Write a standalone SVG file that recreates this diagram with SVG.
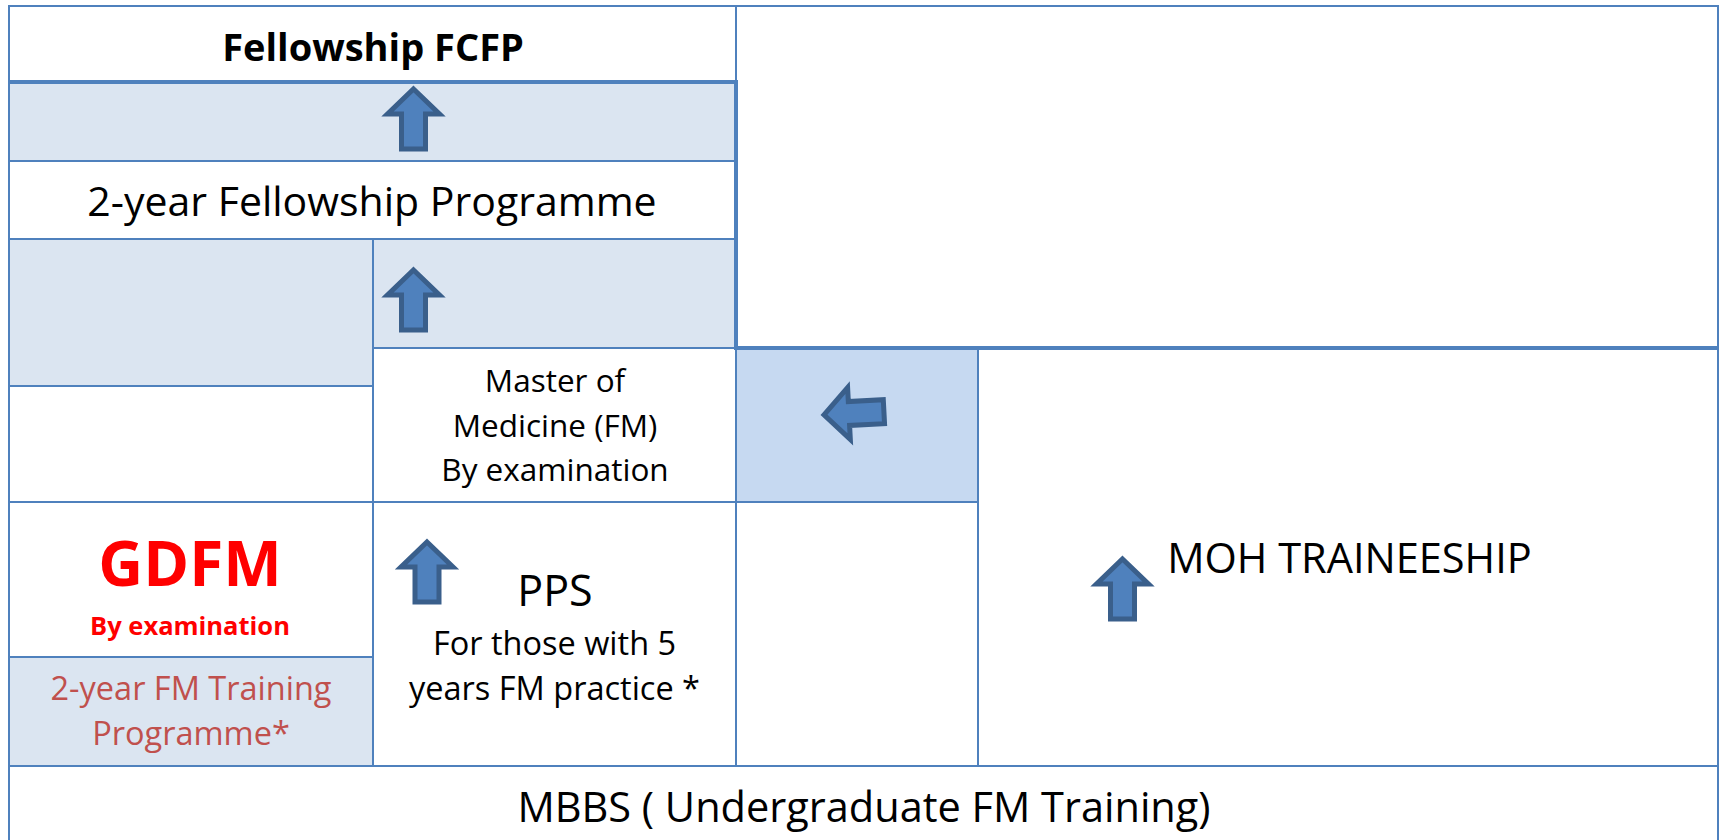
<svg xmlns="http://www.w3.org/2000/svg" xmlns:xlink="http://www.w3.org/1999/xlink" width="1721" height="840" viewBox="0 0 1721 840">
<defs>
<style>
.cell{stroke:#4F81BD;stroke-width:2;}
.w{fill:#FFFFFF;}
.s{fill:#DBE5F1;}
.s2{fill:#C6D9F1;}
.thick{stroke:#4F81BD;stroke-width:4;fill:none;}
.arr{fill:#4F81BD;stroke:#3A5F8B;stroke-width:5;stroke-linejoin:miter;}
text{font-family:"Open Sans","Noto Sans","Liberation Sans",sans-serif;fill:#000000;text-anchor:middle;}
.b{font-weight:bold;}
.red{fill:#FF0000;font-weight:bold;}
.brown{fill:#C0504D;}
</style>
<path id="up" class="arr" d="M0,4 L26,29 L12,29 L12,64 L-12,64 L-12,29 L-26,29 Z"/>
</defs>
<rect x="0" y="0" width="1721" height="840" fill="#FFFFFF"/>

<g id="fcfp"><rect class="cell w" x="9" y="6" width="727" height="76"/><text class="b" x="373" y="61" font-size="38">Fellowship FCFP</text></g>
<g id="band1"><rect class="cell s" x="9" y="82" width="727" height="79"/><use xlink:href="#up" x="413.5" y="85"/></g>
<g id="fellowship2"><rect class="cell w" x="9" y="161" width="727" height="78"/><text x="372" y="216" font-size="41">2-year Fellowship Programme</text></g>
<g id="band2left"><rect class="cell s" x="9" y="239" width="364" height="147"/></g>
<g id="band2right"><rect class="cell s" x="373" y="239" width="363" height="109"/><use xlink:href="#up" x="413.5" y="266"/></g>
<g id="leftwhite"><rect class="cell w" x="9" y="386" width="364" height="116"/></g>
<g id="master"><rect class="cell w" x="373" y="348" width="363" height="154"/>
<text x="555" y="392" font-size="31.5">Master of</text>
<text x="555" y="437" font-size="31.5">Medicine (FM)</text>
<text x="555" y="481" font-size="31.5">By examination</text></g>
<g id="arrowcell"><rect class="cell s2" x="736" y="348" width="242" height="154"/>
<use xlink:href="#up" transform="translate(820,415) rotate(-3) rotate(-90)"/></g>
<g id="topright"><rect class="cell w" x="736" y="6" width="982" height="342"/></g>
<g id="gdfm"><rect class="cell w" x="9" y="502" width="364" height="155"/>
<text class="red" x="190" y="586" font-size="62">GDFM</text>
<text class="red" x="190" y="635" font-size="25.5">By examination</text></g>
<g id="fmtraining"><rect class="cell s" x="9" y="657" width="364" height="109"/>
<text class="brown" x="191" y="700" font-size="32.5">2-year FM Training</text>
<text class="brown" x="191" y="745" font-size="32.5">Programme*</text></g>
<g id="pps"><rect class="cell w" x="373" y="502" width="363" height="264"/>
<use xlink:href="#up" x="427" y="538"/>
<text x="555" y="606" font-size="43">PPS</text>
<text x="554.5" y="655" font-size="32.5">For those with 5</text>
<text x="554.5" y="700" font-size="32.5">years FM practice *</text></g>
<g id="empty"><rect class="cell w" x="736" y="502" width="242" height="264"/></g>
<g id="moh"><rect class="cell w" x="978" y="348" width="740" height="418"/>
<use xlink:href="#up" x="1122.5" y="555"/>
<text x="1349.5" y="573" font-size="41.5">MOH TRAINEESHIP</text></g>
<g id="mbbs"><rect class="cell w" x="9" y="766" width="1709" height="80"/>
<text x="864" y="822" font-size="41.5">MBBS ( Undergraduate FM Training)</text></g>

<g id="connectors">
<line class="thick" x1="9" y1="82" x2="738" y2="82"/>
<line class="thick" x1="736" y1="80" x2="736" y2="350"/>
<line class="thick" x1="736" y1="348" x2="1718" y2="348"/>
</g>
</svg>
